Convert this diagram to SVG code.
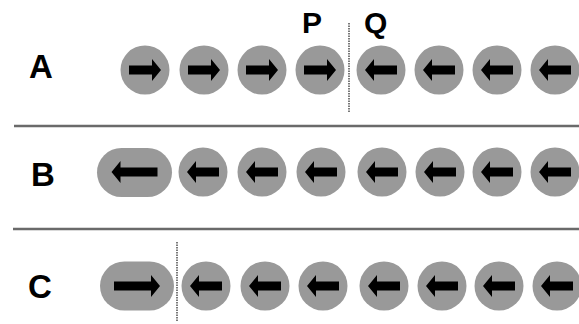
<svg xmlns="http://www.w3.org/2000/svg" xmlns:xlink="http://www.w3.org/1999/xlink" width="579" height="324" viewBox="0 0 579 324">
<style>
.lbl{font-family:"Liberation Sans",Arial,sans-serif;font-weight:bold;font-size:33px;fill:#000}
.pq{font-size:30px}
.ball{fill:#999999}
.arr{fill:#000}
.sep{stroke:#6a6a6a;stroke-width:2.5}
.dot{stroke:#333;stroke-width:1.3;stroke-dasharray:1.5 1}
</style>
<defs>
<path id="ar" class="arr" d="M-16,-4.5 H7 V-11 L16,0 L7,11 V4.5 H-16 Z"/>
<path id="al" class="arr" d="M16,-4.5 H-7 V-11 L-16,0 L-7,11 V4.5 H16 Z"/>
<path id="arw" class="arr" d="M-23,-4.5 H14 V-11 L23,0 L14,11 V4.5 H-23 Z"/>
<path id="alw" class="arr" d="M23,-4.5 H-14 V-11 L-23,0 L-14,11 V4.5 H23 Z"/>
<g id="bR"><circle class="ball" r="24.5"/><use xlink:href="#ar"/></g>
<g id="bL"><circle class="ball" r="24.5"/><use xlink:href="#al"/></g>
</defs>
<g id="labels">
<text class="lbl" x="29" y="78">A</text>
<text class="lbl" x="31" y="186">B</text>
<text class="lbl" x="28" y="298">C</text>
<text class="lbl pq" x="302" y="33">P</text>
<text class="lbl pq" x="364" y="33">Q</text>
</g>
<g id="separators">
<line class="sep" x1="14" y1="126" x2="579" y2="126"/>
<line class="sep" x1="13" y1="229" x2="579" y2="229"/>
</g>
<g id="boundaries">
<line class="dot" x1="349" y1="23" x2="349" y2="113"/>
<line class="dot" x1="177" y1="242" x2="177" y2="322"/>
</g>
<g id="rowA">
<g id="a1"><use xlink:href="#bR" x="145" y="70"/></g>
<g id="a2"><use xlink:href="#bR" x="204" y="70"/></g>
<g id="a3"><use xlink:href="#bR" x="262" y="70"/></g>
<g id="a4"><use xlink:href="#bR" x="320" y="70"/></g>
<g id="a5"><use xlink:href="#bL" x="381" y="70"/></g>
<g id="a6"><use xlink:href="#bL" x="439" y="70"/></g>
<g id="a7"><use xlink:href="#bL" x="497" y="70"/></g>
<g id="a8"><use xlink:href="#bL" x="555" y="70"/></g>
</g>
<g id="rowB">
<g id="b1"><rect class="ball" x="97" y="148" width="75" height="49" rx="24.5"/><use xlink:href="#alw" x="134.5" y="172"/></g>
<g id="b2"><use xlink:href="#bL" x="203" y="172"/></g>
<g id="b3"><use xlink:href="#bL" x="262" y="172"/></g>
<g id="b4"><use xlink:href="#bL" x="321" y="172"/></g>
<g id="b5"><use xlink:href="#bL" x="382" y="172"/></g>
<g id="b6"><use xlink:href="#bL" x="440" y="172"/></g>
<g id="b7"><use xlink:href="#bL" x="497" y="172"/></g>
<g id="b8"><use xlink:href="#bL" x="555" y="172"/></g>
</g>
<g id="rowC">
<g id="c1"><rect class="ball" x="100" y="261.5" width="74" height="49" rx="24.5"/><use xlink:href="#arw" x="137" y="286"/></g>
<g id="c2"><use xlink:href="#bL" x="206" y="286"/></g>
<g id="c3"><use xlink:href="#bL" x="265" y="286"/></g>
<g id="c4"><use xlink:href="#bL" x="323" y="286"/></g>
<g id="c5"><use xlink:href="#bL" x="384" y="286"/></g>
<g id="c6"><use xlink:href="#bL" x="442" y="286"/></g>
<g id="c7"><use xlink:href="#bL" x="499" y="286"/></g>
<g id="c8"><use xlink:href="#bL" x="557" y="286"/></g>
</g>
</svg>
